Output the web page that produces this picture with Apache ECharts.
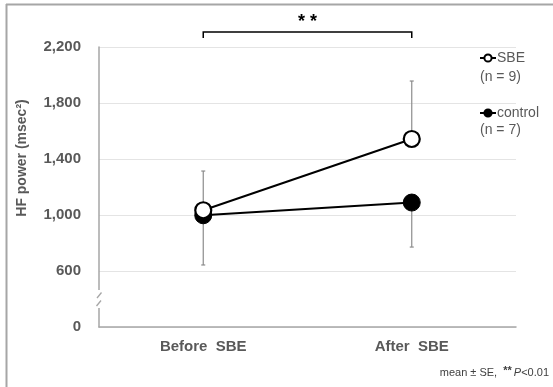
<!DOCTYPE html>
<html>
<head>
<meta charset="utf-8">
<script src="https://cdn.jsdelivr.net/npm/echarts@6/dist/echarts.min.js"></script>
<style>html,body{margin:0;padding:0;background:#fff;}#c{width:553px;height:387px;}</style>
</head>
<body>
<div id="c"></div>
<script>
// ---- data ----
var categories = ['Before  SBE', 'After  SBE'];
var sbeMean = [1034, 1543];
var sbeSE = [280, 414];          // drawn upward
var controlMean = [998, 1089];
var controlSE = [355, 318];      // drawn downward
var tickValues = [0, 600, 1000, 1400, 1800, 2200];
var seriesNames = ['SBE', 'control'];
var nLabels = ['(n = 9)', '(n = 7)'];

// axis break: 0 .. 600 compressed into one tick step (600 drawn 400 units above 0)
var BREAK_SHIFT = 200;
function toAxis(v) { return v - BREAK_SHIFT; }
function fromAxis(a) { return a === 0 ? 0 : a + BREAK_SHIFT; }

var chart = echarts.init(document.getElementById('c'), null, {renderer: 'canvas'});
var grey = '#595959';
var font = '"Liberation Sans", Arial, sans-serif';

function errData(mean, se, dir) {
  return mean.map(function (m, i) { return [i, toAxis(m), toAxis(m + dir * se[i])]; });
}
function errRender(params, api) {
  var x = api.value(0);
  var p1 = api.coord([x, api.value(1)]);
  var p2 = api.coord([x, api.value(2)]);
  var cap = 2;
  var st = {stroke: '#8c8c8c', lineWidth: 1.2};
  return {type: 'group', children: [
    {type: 'line', shape: {x1: p1[0], y1: p1[1], x2: p2[0], y2: p2[1]}, style: st},
    {type: 'line', shape: {x1: p2[0] - cap, y1: p2[1], x2: p2[0] + cap, y2: p2[1]}, style: st}
  ]};
}

var option = {
  animation: false,
  textStyle: {fontFamily: font},
  grid: {left: 99, right: 37, top: 47, bottom: 60, containLabel: false},
  legend: [
    {data: [seriesNames[0]], left: 474, top: 46, orient: 'vertical', itemWidth: 16, itemHeight: 9, itemGap: 0,
     textStyle: {color: grey, fontSize: 14, fontFamily: font, padding: [0, 0, 0, -4]}, selectedMode: false},
    {data: [seriesNames[1]], left: 474, top: 101, orient: 'vertical', itemWidth: 16, itemHeight: 9, itemGap: 0,
     textStyle: {color: grey, fontSize: 14, fontFamily: font, padding: [0, 0, 0, -4]}, selectedMode: false}
  ],
  xAxis: {
    type: 'category', data: categories, boundaryGap: true,
    axisLine: {lineStyle: {color: '#a6a6a6', width: 1.5}},
    axisTick: {show: false},
    axisLabel: {color: grey, fontWeight: 'bold', fontSize: 15, margin: 12, fontFamily: font}
  },
  yAxis: {
    type: 'value', min: 0, max: toAxis(2200), interval: 400,
    axisLine: {show: true, lineStyle: {color: '#a6a6a6', width: 1.5}},
    axisTick: {show: false},
    splitLine: {lineStyle: {color: '#e4e4e4', width: 1}},
    axisLabel: {color: grey, fontWeight: 'bold', fontSize: 15, margin: 18, fontFamily: font,
      formatter: function (a) { return fromAxis(a).toLocaleString('en-US'); }}
  },
  series: [
    {type: 'custom', name: 'errSBE', renderItem: errRender, data: errData(sbeMean, sbeSE, 1), z: 1, silent: true},
    {type: 'custom', name: 'errControl', renderItem: errRender, data: errData(controlMean, controlSE, -1), z: 1, silent: true},
    {type: 'line', name: seriesNames[1], data: controlMean.map(toAxis), symbol: 'circle', symbolSize: 17,
     lineStyle: {color: '#000', width: 2}, itemStyle: {color: '#000', borderColor: '#000', borderWidth: 1}, z: 3},
    {type: 'line', name: seriesNames[0], data: sbeMean.map(toAxis), symbol: 'circle', symbolSize: 16,
     lineStyle: {color: '#000', width: 2}, itemStyle: {color: '#fff', borderColor: '#000', borderWidth: 2.2}, z: 4}
  ]
};
chart.setOption(option);

// decorations positioned from the library's scales
var xb = chart.convertToPixel({xAxisIndex: 0}, categories[0]);
var xa = chart.convertToPixel({xAxisIndex: 0}, categories[1]);
var axisX = xb - (xa - xb) / 2;
var yBreak = chart.convertToPixel({yAxisIndex: 0}, 200);
var bracketY = 32;
chart.setOption({
  graphic: [
    {type: 'line', shape: {x1: 6, y1: 4.5, x2: 553, y2: 4.5}, style: {stroke: '#a6a6a6', lineWidth: 2}},
    {type: 'line', shape: {x1: 6.5, y1: 4, x2: 6.5, y2: 387}, style: {stroke: '#a6a6a6', lineWidth: 2}},
    {type: 'polyline', shape: {points: [[xb, bracketY + 6], [xb, bracketY], [xa, bracketY], [xa, bracketY + 6]]},
     style: {fill: 'none', stroke: '#000', lineWidth: 1.5}},
    {type: 'text', x: (xb + xa) / 2, y: bracketY - 1, style: {text: '* *', fill: '#000', font: 'bold 18px ' + font, textAlign: 'center', textVerticalAlign: 'bottom'}},
    {type: 'rect', shape: {x: axisX - 4, y: yBreak - 9, width: 8, height: 18}, style: {fill: '#fff'}, z: 10},
    {type: 'line', shape: {x1: axisX - 2, y1: yBreak - 1, x2: axisX + 2.5, y2: yBreak - 6.5}, style: {stroke: '#a6a6a6', lineWidth: 1.3}, z: 11},
    {type: 'line', shape: {x1: axisX - 2.5, y1: yBreak + 7, x2: axisX + 2, y2: yBreak + 1.5}, style: {stroke: '#a6a6a6', lineWidth: 1.3}, z: 11},
    {type: 'text', x: 22, y: 158, rotation: Math.PI / 2, style: {text: 'HF power (msec²)', fill: grey, font: 'bold 14px ' + font, textAlign: 'center', textVerticalAlign: 'middle'}},
    {type: 'text', x: 480, y: 77, style: {text: nLabels[0], fill: grey, font: '14px ' + font, textVerticalAlign: 'middle'}},
    {type: 'text', x: 480, y: 130, style: {text: nLabels[1], fill: grey, font: '14px ' + font, textVerticalAlign: 'middle'}},
    {type: 'text', x: 549, y: 373, style: {
      text: '{a|mean ± SE,  }{b|**}{c|P}{a|<0.01}', textAlign: 'right', textVerticalAlign: 'middle',
      rich: {
        a: {fontSize: 11, fill: '#404040', fontFamily: font},
        b: {fontSize: 11, fontWeight: 'bold', fill: '#404040', fontFamily: font, padding: [0, 2, 4, 0]},
        c: {fontSize: 11, fontStyle: 'italic', fill: '#404040', fontFamily: font}
      }}}
  ]
});
</script>
</body>
</html>
